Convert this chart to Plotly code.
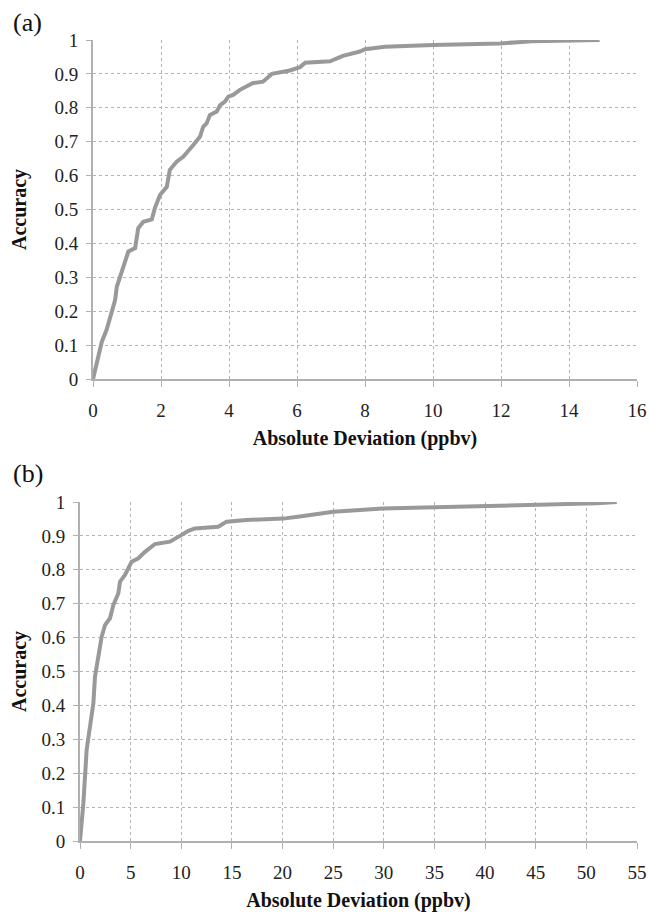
import plotly.graph_objects as go

# Panel (a): cumulative accuracy vs absolute deviation
dev_a = [0, 0.16, 0.26, 0.4, 0.55, 0.65, 0.7, 0.84, 0.94, 1.04, 1.24, 1.33, 1.48, 1.73,
         1.82, 1.97, 2.17, 2.26, 2.46, 2.66, 2.95, 3.15, 3.24, 3.34, 3.44, 3.64, 3.74,
         3.88, 3.98, 4.12, 4.32, 4.71, 5.0, 5.26, 5.79, 6.09, 6.24, 6.97, 7.35, 7.85,
         8.0, 8.59, 10.0, 11.97, 12.9, 14.9]
acc_a = [0, 0.071, 0.11, 0.145, 0.194, 0.233, 0.272, 0.312, 0.341, 0.376, 0.386, 0.445,
         0.464, 0.471, 0.504, 0.543, 0.567, 0.617, 0.641, 0.656, 0.69, 0.715, 0.744,
         0.754, 0.779, 0.789, 0.808, 0.818, 0.833, 0.838, 0.853, 0.873, 0.877, 0.9,
         0.91, 0.92, 0.933, 0.937, 0.953, 0.966, 0.973, 0.98, 0.985, 0.99, 0.996, 1.0]

# Panel (b)
dev_b = [0, 0.33, 0.66, 0.99, 1.32, 1.48, 1.81, 2.14, 2.47, 2.96, 3.29, 3.78, 3.95, 4.44,
         5.1, 5.76, 6.42, 7.4, 8.88, 9.54, 10.04, 10.7, 11.35, 13.65, 14.48, 16.45,
         20.07, 21.88, 23.7, 25.0, 29.9, 40.1, 45.1, 51.0, 53.0]
acc_b = [0, 0.11, 0.27, 0.347, 0.406, 0.485, 0.544, 0.603, 0.637, 0.657, 0.696, 0.73,
         0.765, 0.785, 0.824, 0.834, 0.853, 0.876, 0.883, 0.893, 0.903, 0.915, 0.922,
         0.927, 0.942, 0.947, 0.951, 0.958, 0.965, 0.971, 0.981, 0.988, 0.994, 0.996, 1.0]

line_color = "#999999"
grid_color = "#b4b4b4"
axis_color = "#b0b0b0"
serif = "Liberation Serif"

W, H = 649, 912


def fx(px):
    return px / W


def fy(py):
    return 1 - py / H


fig = go.Figure()
fig.add_trace(go.Scatter(x=dev_a, y=acc_a, mode="lines", xaxis="x", yaxis="y",
                         line=dict(color=line_color, width=4), showlegend=False))
fig.add_trace(go.Scatter(x=dev_b, y=acc_b, mode="lines", xaxis="x2", yaxis="y2",
                         line=dict(color=line_color, width=4), showlegend=False))

common_x = dict(showgrid=True, gridcolor=grid_color, griddash="dot", gridwidth=1,
                showline=True, linecolor=axis_color, linewidth=2, ticks="outside",
                ticklen=6, tickcolor=axis_color, zeroline=False, automargin=False,
                tickfont=dict(family=serif, size=19, color="#222"),
                ticklabelstandoff=7)
common_y = dict(showgrid=True, gridcolor=grid_color, griddash="dot", gridwidth=1,
                showline=True, linecolor=axis_color, linewidth=2, ticks="outside",
                ticklen=5, tickcolor=axis_color, zeroline=False, range=[0, 1], dtick=0.1,
                automargin=False,
                tickfont=dict(family=serif, size=19, color="#222"),
                ticklabelstandoff=4)
title_font = dict(family=serif, size=20, color="#111")

fig.update_layout(
    width=W, height=H,
    margin=dict(l=0, r=0, t=0, b=0),
    paper_bgcolor="white", plot_bgcolor="white",
    xaxis=dict(common_x, domain=[fx(93), fx(637)], range=[0, 16], dtick=2,
               anchor="y",
               title=dict(text="<b>Absolute Deviation (ppbv)</b>", font=title_font,
                          standoff=11)),
    yaxis=dict(common_y, domain=[fy(379), fy(40)], anchor="x",
               title=dict(text="<b>Accuracy</b>", font=title_font, standoff=22)),
    xaxis2=dict(common_x, domain=[fx(80), fx(637)], range=[0, 55], dtick=5,
                anchor="y2",
                title=dict(text="<b>Absolute Deviation (ppbv)</b>", font=title_font,
                           standoff=11)),
    yaxis2=dict(common_y, domain=[fy(841), fy(502)], anchor="x2",
                title=dict(text="<b>Accuracy</b>", font=title_font, standoff=9)),
    annotations=[
        dict(text="(a)", x=fx(11), y=fy(22), xref="paper", yref="paper",
             xanchor="left", yanchor="middle", showarrow=False,
             font=dict(family=serif, size=26, color="#111")),
        dict(text="(b)", x=fx(11), y=fy(473), xref="paper", yref="paper",
             xanchor="left", yanchor="middle", showarrow=False,
             font=dict(family=serif, size=26, color="#111")),
    ],
)

# drop the browser's default body margin so the figure fills the window
fig.write_html("out.html", config={"displayModeBar": False}, post_script=(
    "document.body.style.margin='0';"
    "document.body.style.overflow='hidden';"
    "document.documentElement.style.overflow='hidden';"))
